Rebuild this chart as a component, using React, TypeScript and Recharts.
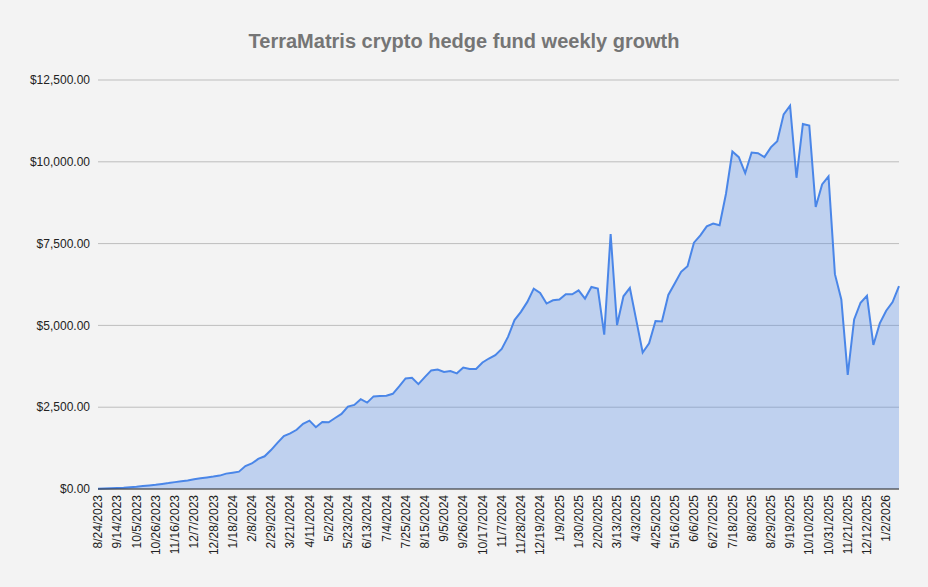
import React from "react";
import {
  AreaChart,
  Area,
  XAxis,
  YAxis,
  CartesianGrid,
} from "recharts";

// weekly dates, split by year
const dates2023 = [
  "8/24/2023", "8/31/2023", "9/7/2023", "9/14/2023", "9/21/2023", "9/28/2023",
  "10/5/2023", "10/12/2023", "10/19/2023", "10/26/2023", "11/2/2023", "11/9/2023",
  "11/16/2023", "11/23/2023", "11/30/2023", "12/7/2023", "12/14/2023", "12/21/2023",
  "12/28/2023",
];
const dates2024 = [
  "1/4/2024", "1/11/2024", "1/18/2024", "1/25/2024", "2/1/2024", "2/8/2024",
  "2/15/2024", "2/22/2024", "2/29/2024", "3/7/2024", "3/14/2024", "3/21/2024",
  "3/28/2024", "4/4/2024", "4/11/2024", "4/18/2024", "4/25/2024", "5/2/2024",
  "5/9/2024", "5/16/2024", "5/23/2024", "5/30/2024", "6/6/2024", "6/13/2024",
  "6/20/2024", "6/27/2024", "7/4/2024", "7/11/2024", "7/18/2024", "7/25/2024",
  "8/1/2024", "8/8/2024", "8/15/2024", "8/22/2024", "8/29/2024", "9/5/2024",
  "9/12/2024", "9/19/2024", "9/26/2024", "10/3/2024", "10/10/2024", "10/17/2024",
  "10/24/2024", "10/31/2024", "11/7/2024", "11/14/2024", "11/21/2024", "11/28/2024",
  "12/5/2024", "12/12/2024", "12/19/2024", "12/26/2024",
];
const dates2025 = [
  "1/2/2025", "1/9/2025", "1/16/2025", "1/23/2025", "1/30/2025", "2/6/2025",
  "2/13/2025", "2/20/2025", "2/27/2025", "3/6/2025", "3/13/2025", "3/20/2025",
  "3/27/2025", "4/3/2025", "4/10/2025", "4/17/2025", "4/25/2025", "5/2/2025",
  "5/9/2025", "5/16/2025", "5/23/2025", "5/30/2025", "6/6/2025", "6/13/2025",
  "6/20/2025", "6/27/2025", "7/4/2025", "7/11/2025", "7/18/2025", "7/25/2025",
  "8/1/2025", "8/8/2025", "8/15/2025", "8/22/2025", "8/29/2025", "9/5/2025",
  "9/12/2025", "9/19/2025", "9/26/2025", "10/3/2025", "10/10/2025", "10/17/2025",
  "10/24/2025", "10/31/2025", "11/7/2025", "11/14/2025", "11/21/2025", "11/28/2025",
  "12/5/2025", "12/12/2025", "12/19/2025", "12/26/2025",
];
const dates2026 = ["1/2/2026", "1/9/2026", "1/16/2026"];

// fund value per week (USD)
const values2023 = [
  10, 15, 22, 30, 40, 55, 70, 90, 110, 130, 155, 180, 210, 235, 260, 300, 330, 355,
  380,
];
const values2024 = [
  410, 470, 500, 530, 700, 780, 920, 1000, 1190, 1410, 1620, 1700, 1810, 1990, 2090,
  1890, 2050, 2040, 2170, 2295, 2520, 2570, 2745, 2640, 2830, 2840, 2850, 2910, 3135,
  3380, 3400, 3205, 3420, 3625, 3650, 3575, 3605, 3535, 3710, 3670, 3670, 3867, 3988,
  4090, 4281, 4656, 5162, 5415, 5718, 6123, 5992, 5668,
];
const values2025 = [
  5769, 5789, 5951, 5951, 6073, 5820, 6174, 6123, 4717, 7793, 5010, 5890, 6144, 5162,
  4170, 4454, 5132, 5120, 5930, 6281, 6636, 6809, 7530, 7754, 8028, 8110, 8059, 9024,
  10314, 10142, 9654, 10284, 10264, 10142, 10440, 10630, 11450, 11717, 9512, 11158,
  11107, 8618, 9309, 9553, 6566, 5794, 3487, 5184, 5692, 5906, 4402, 5062,
];
const values2026 = [5448, 5712, 6200];

const yTicks = [0, 2500, 5000, 7500, 10000, 12500];

const dates = [...dates2023, ...dates2024, ...dates2025, ...dates2026];
const values = [...values2023, ...values2024, ...values2025, ...values2026];
const data = dates.map((d, i) => ({ date: d, value: values[i] }));

const FONT = "'Liberation Sans', Arial, sans-serif";

const money = (v: number) =>
  "$" + v.toLocaleString("en-US", { minimumFractionDigits: 2, maximumFractionDigits: 2 });

// rotated date labels under the axis
const DateTick = (props: any) => {
  const { x, y, payload } = props;
  return (
    <g transform={`translate(${x},${y - 2})`}>
      <text
        transform='rotate(-90)'
        textAnchor='end'
        dy='0.35em'
        fill='#222'
        fontSize={12}
        fontFamily={FONT}>
        {payload.value}
      </text>
    </g>
  );
};

export default function App() {
  return (
    <div
      style={{
        position: "absolute",
        top: 0,
        left: 0,
        width: 928,
        height: 587,
        background: "#f3f3f3",
      }}>
      <div
        style={{
          position: "absolute",
          top: 30,
          left: 0,
          width: 928,
          textAlign: "center",
          fontFamily: FONT,
          fontWeight: "bold",
          fontSize: 20,
          color: "#757575",
        }}>
        TerraMatris crypto hedge fund weekly growth
      </div>
      <AreaChart
        width={928}
        height={587}
        data={data}
        margin={{ top: 80, right: 29, left: 0, bottom: 0 }}>
        <CartesianGrid vertical={false} stroke='#bdbdbd' />
        <XAxis
          dataKey='date'
          interval={2}
          height={98}
          tickLine={false}
          axisLine={{ stroke: "#333" }}
          tick={<DateTick />}
        />
        <YAxis
          width={98}
          domain={[0, 12500]}
          ticks={yTicks}
          axisLine={false}
          tickLine={false}
          tickFormatter={money}
          tick={{ fill: "#222", fontSize: 12, fontFamily: FONT }}
        />
        <Area
          type='linear'
          dataKey='value'
          stroke='#4a86e8'
          strokeWidth={2}
          fill='#4a86e8'
          fillOpacity={0.3}
          isAnimationActive={false}
          dot={false}
        />
      </AreaChart>
    </div>
  );
}
